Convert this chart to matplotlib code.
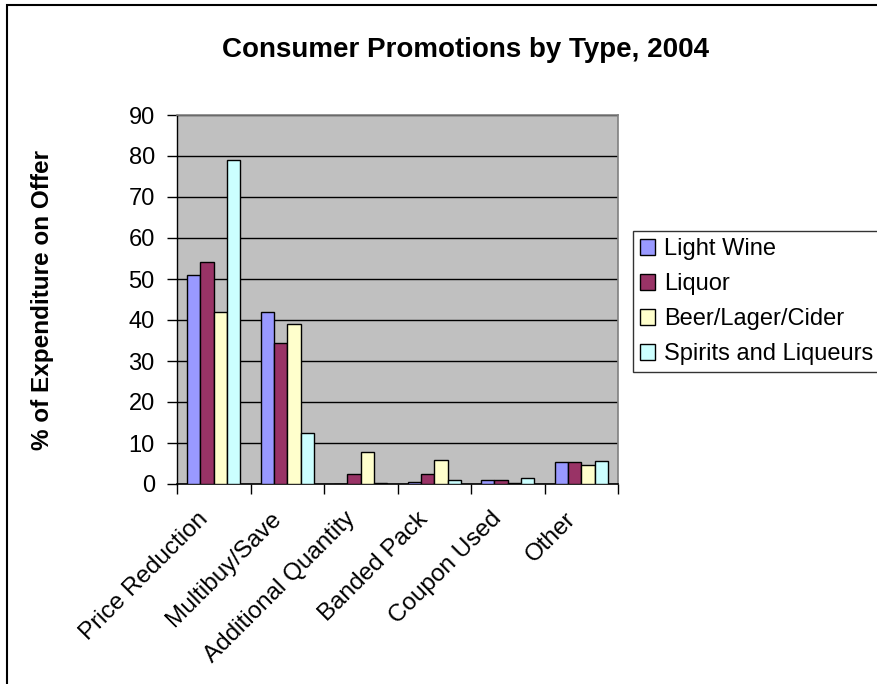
import numpy as np
import matplotlib.pyplot as plt
import matplotlib.transforms as mtransforms
from matplotlib.patches import Rectangle

plt.rcParams['font.family'] = ['Liberation Sans', 'DejaVu Sans']

categories = ['Price Reduction', 'Multibuy/Save', 'Additional Quantity',
              'Banded Pack', 'Coupon Used', 'Other']
light_wine = [51.0, 42.0, 0.0, 0.6, 0.9, 5.3]
liquor = [54.2, 34.3, 2.4, 2.4, 0.9, 5.3]
beer_lager_cider = [42.0, 39.0, 7.7, 5.9, 0.3, 4.6]
spirits_liqueurs = [79.0, 12.4, 0.3, 0.9, 1.5, 5.6]

series = [('Light Wine', light_wine, '#9999FF'),
          ('Liquor', liquor, '#993366'),
          ('Beer/Lager/Cider', beer_lager_cider, '#FFFFCC'),
          ('Spirits and Liqueurs', spirits_liqueurs, '#CCFFFF')]

W, H = 877, 684
fig = plt.figure(figsize=(W / 100, H / 100), dpi=100)
ax = fig.add_axes([177 / W, 1 - 484 / H, (618 - 177) / W, (484 - 115) / H])
ax.set_facecolor('#C0C0C0')

x = np.arange(len(categories))
bw = 1 / 5.5
for i, (name, vals, col) in enumerate(series):
    ax.bar(x + (i - 1.5) * bw, vals, bw, color=col, edgecolor='black',
           linewidth=1, label=name, zorder=3)

ax.set_xlim(-0.5, len(categories) - 0.5)
ax.set_ylim(0, 90)
ax.set_yticks(range(0, 91, 10))
ax.yaxis.grid(True, color='black', linewidth=1, zorder=0)
ax.set_axisbelow(True)

# tick marks sit on the category boundaries
ax.set_xticks(np.arange(-0.5, len(categories)))
ax.set_xticklabels([])
ax.tick_params(axis='x', length=7, width=1, color='black')
ax.tick_params(axis='y', length=7, width=1, labelsize=17, pad=9)

# category names, slanted, placed below each group
shift = mtransforms.ScaledTranslation(-17 / 100, -24 / 100, fig.dpi_scale_trans)
for xi, name in zip(x, categories):
    ax.text(xi, 0, name, rotation=45, ha='right', va='top',
            rotation_mode='anchor', fontsize=17.5,
            transform=ax.get_xaxis_transform() + shift)

for side in ['top', 'right']:
    ax.spines[side].set_color('#808080')
    ax.spines[side].set_linewidth(1.2)
ax.spines['left'].set_linewidth(1)
ax.spines['bottom'].set_linewidth(1.2)

ax.set_ylabel('% of Expenditure on Offer', fontsize=17.5, fontweight='bold')
ax.yaxis.set_label_coords(54 / W, 1 - 300 / H, transform=fig.transFigure)

fig.text(465 / W, 1 - 50 / H, 'Consumer Promotions by Type, 2004',
         ha='center', va='center', fontsize=20, fontweight='bold')

leg = ax.legend(loc='upper left', bbox_to_anchor=(633 / W, 1 - 231 / H),
                bbox_transform=fig.transFigure, fontsize=17, frameon=True,
                fancybox=False, edgecolor='black', handlelength=0.65,
                handleheight=0.65, handletextpad=0.35, labelspacing=0.55,
                borderpad=0.3, borderaxespad=0)
leg.get_frame().set_linewidth(1)

# chart area border, clipped at the right and bottom of the image
fig.add_artist(Rectangle((7 / W, -0.1), 1.0, 1.1 - 5 / H, transform=fig.transFigure,
                         fill=False, edgecolor='black', linewidth=1.5))

fig.savefig('out.png', dpi=100)
